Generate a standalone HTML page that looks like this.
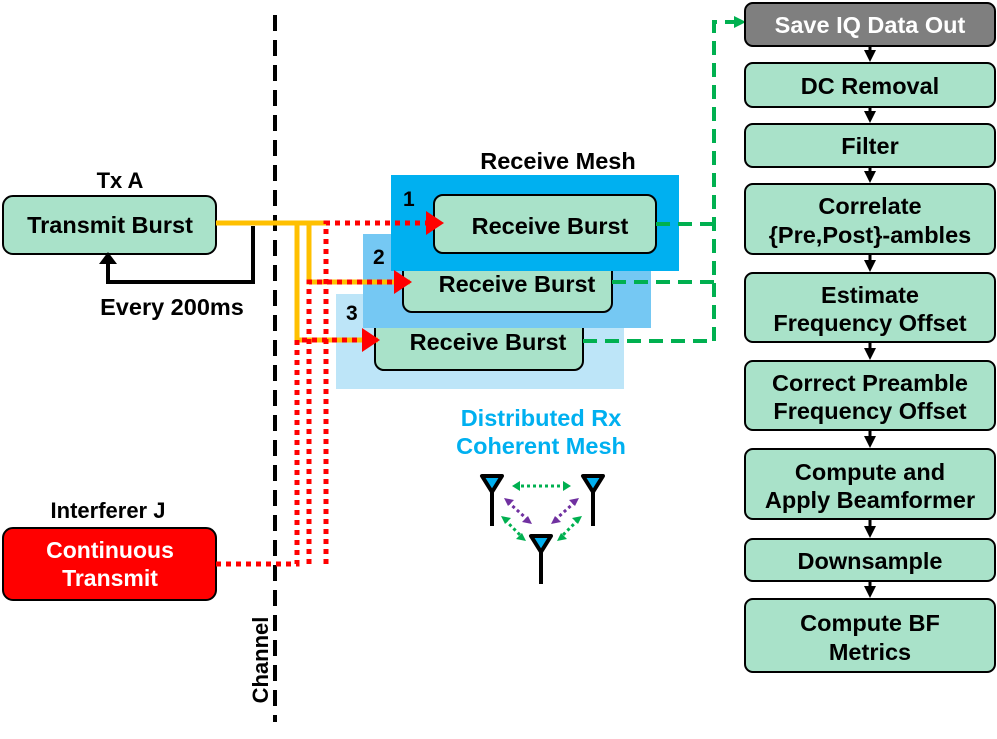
<!DOCTYPE html>
<html><head><meta charset="utf-8"><style>
html,body{margin:0;padding:0;background:#fff}
svg{display:block}
text{font-family:"Liberation Sans",Arial,sans-serif;font-weight:bold}
</style></head><body>
<svg width="997" height="739" viewBox="0 0 997 739" xmlns="http://www.w3.org/2000/svg">
<defs>
<marker id="ab" markerWidth="12" markerHeight="12" refX="6" refY="6" orient="auto" markerUnits="userSpaceOnUse"><path d="M0,0 L12,6 L0,12z" fill="#000"/></marker>
</defs>
<line x1="275" y1="15" x2="275" y2="722" stroke="#000" stroke-width="4" stroke-dasharray="16,9"/>
<text x="268" y="660" font-size="22" transform="rotate(-90 268 660)" text-anchor="middle">Channel</text>

<text x="120" y="188" font-size="22" text-anchor="middle">Tx A</text>
<rect x="3" y="196" width="213" height="58" rx="10" fill="#a9e2c9" stroke="#000" stroke-width="2"/>
<text x="110" y="233" font-size="23.5" text-anchor="middle">Transmit Burst</text>
<polyline points="253,226 253,282 108,282 108,262" fill="none" stroke="#000" stroke-width="4"/>
<path d="M99,264 L108,252 L117,264z" fill="#000"/>
<text x="172" y="315" font-size="23.5" text-anchor="middle">Every 200ms</text>

<text x="108" y="518" font-size="22" text-anchor="middle">Interferer J</text>
<rect x="3" y="528" width="213" height="72" rx="10" fill="#ff0000" stroke="#000" stroke-width="2"/>
<text x="110" y="558" font-size="23" text-anchor="middle" fill="#fff">Continuous</text>
<text x="110" y="586" font-size="23" text-anchor="middle" fill="#fff">Transmit</text>

<rect x="336" y="294" width="288" height="95" fill="#bde5f8"/>
<rect x="375" y="313" width="208" height="57" rx="9" fill="#a9e2c9" stroke="#000" stroke-width="2"/>
<text x="488" y="350" font-size="23.5" text-anchor="middle">Receive Burst</text>
<text x="346" y="320" font-size="21">3</text>
<rect x="363" y="234" width="288" height="94" fill="#75c8f3"/>
<rect x="403" y="254" width="209" height="58" rx="9" fill="#a9e2c9" stroke="#000" stroke-width="2"/>
<text x="517" y="292" font-size="23.5" text-anchor="middle">Receive Burst</text>
<text x="373" y="264" font-size="21">2</text>
<rect x="391" y="175" width="288" height="96" fill="#00b0f0"/>
<rect x="434" y="195" width="222" height="58" rx="9" fill="#a9e2c9" stroke="#000" stroke-width="2"/>
<text x="550" y="234" font-size="23.5" text-anchor="middle">Receive Burst</text>
<text x="403" y="206" font-size="21">1</text>
<text x="558" y="169" font-size="23.5" text-anchor="middle">Receive Mesh</text>

<g stroke="#ffc000" stroke-width="5" fill="none">
<line x1="216" y1="223" x2="330" y2="223"/>
<polyline points="297,223 297,340 378,340"/>
<polyline points="309,223 309,282 410,282"/>
</g>
<g stroke="#ff0000" stroke-width="5" fill="none" stroke-dasharray="5,5">
<polyline points="216,564 297,564 297,340 370,340"/>
<polyline points="309,564 309,282 402,282"/>
<polyline points="326,564 326,223 432,223"/>
</g>
<path d="M362,328 L380,340 L362,352z" fill="#ff0000"/>
<path d="M394,270 L412,282 L394,294z" fill="#ff0000"/>
<path d="M426,211 L444,223 L426,235z" fill="#ff0000"/>

<g stroke="#00b050" stroke-width="4" fill="none" stroke-dasharray="14,8">
<line x1="656" y1="224" x2="714" y2="224"/>
<line x1="612" y1="282" x2="714" y2="282"/>
<line x1="583" y1="341" x2="714" y2="341"/>
<polyline points="714,341 714,22 736,22"/>
</g>
<path d="M734,16 L746,22 L734,28z" fill="#00b050"/>

<text x="541" y="426" font-size="23.5" text-anchor="middle" fill="#00b0f0">Distributed Rx</text>
<text x="541" y="454" font-size="23.5" text-anchor="middle" fill="#00b0f0">Coherent Mesh</text>
<g stroke="#000" stroke-width="4" fill="#00b0f0" stroke-linejoin="round">
<line x1="492" y1="485" x2="492" y2="526"/><path d="M482,476 L502,476 L492,492z"/>
<line x1="593" y1="485" x2="593" y2="526"/><path d="M583,476 L603,476 L593,492z"/>
<line x1="541" y1="545" x2="541" y2="584"/><path d="M531,536 L551,536 L541,552z"/>
</g>
<g stroke-width="3" stroke-dasharray="3,3" fill="none">
<line x1="515" y1="486" x2="567" y2="486" stroke="#00b050"/>
<line x1="508" y1="502" x2="528" y2="520" stroke="#7030a0"/>
<line x1="575" y1="502" x2="555" y2="520" stroke="#7030a0"/>
<line x1="505" y1="520" x2="522" y2="537" stroke="#00b050"/>
<line x1="578" y1="520" x2="561" y2="537" stroke="#00b050"/>
</g>
<g>
<path d="M512,486 L520,481 L520,491z" fill="#00b050"/><path d="M571,486 L563,481 L563,491z" fill="#00b050"/>
<path d="M504,498 L514,500 L508,506z" fill="#7030a0"/><path d="M532,524 L522,522 L528,516z" fill="#7030a0"/>
<path d="M579,498 L569,500 L575,506z" fill="#7030a0"/><path d="M551,524 L561,522 L555,516z" fill="#7030a0"/>
<path d="M501,516 L511,518 L505,524z" fill="#00b050"/><path d="M526,541 L516,539 L522,533z" fill="#00b050"/>
<path d="M582,516 L572,518 L578,524z" fill="#00b050"/><path d="M557,541 L567,539 L561,533z" fill="#00b050"/>
</g>

<g stroke="#000" stroke-width="3" marker-end="url(#ab)">
<line x1="870" y1="46" x2="870" y2="56"/>
<line x1="870" y1="107" x2="870" y2="117"/>
<line x1="870" y1="167" x2="870" y2="177"/>
<line x1="870" y1="254" x2="870" y2="266"/>
<line x1="870" y1="342" x2="870" y2="354"/>
<line x1="870" y1="430" x2="870" y2="442"/>
<line x1="870" y1="519" x2="870" y2="532"/>
<line x1="870" y1="581" x2="870" y2="592"/>
</g>
<g stroke="#000" stroke-width="2">
<rect x="745" y="3" width="250" height="43" rx="8" fill="#7f7f7f"/>
<rect x="745" y="63" width="250" height="44" rx="8" fill="#a9e2c9"/>
<rect x="745" y="124" width="250" height="43" rx="8" fill="#a9e2c9"/>
<rect x="745" y="184" width="250" height="70" rx="8" fill="#a9e2c9"/>
<rect x="745" y="273" width="250" height="69" rx="8" fill="#a9e2c9"/>
<rect x="745" y="361" width="250" height="69" rx="8" fill="#a9e2c9"/>
<rect x="745" y="449" width="250" height="70" rx="8" fill="#a9e2c9"/>
<rect x="745" y="539" width="250" height="42" rx="8" fill="#a9e2c9"/>
<rect x="745" y="599" width="250" height="73" rx="8" fill="#a9e2c9"/>
</g>
<g font-size="23.5" text-anchor="middle">
<text x="870" y="33" fill="#fff">Save IQ Data Out</text>
<text x="870" y="94">DC Removal</text>
<text x="870" y="154">Filter</text>
<text x="870" y="214">Correlate</text>
<text x="870" y="243">{Pre,Post}-ambles</text>
<text x="870" y="303">Estimate</text>
<text x="870" y="331">Frequency Offset</text>
<text x="870" y="391">Correct Preamble</text>
<text x="870" y="419">Frequency Offset</text>
<text x="870" y="480">Compute and</text>
<text x="870" y="508">Apply Beamformer</text>
<text x="870" y="569">Downsample</text>
<text x="870" y="631">Compute BF</text>
<text x="870" y="660">Metrics</text>
</g>
</svg>
</body></html>
